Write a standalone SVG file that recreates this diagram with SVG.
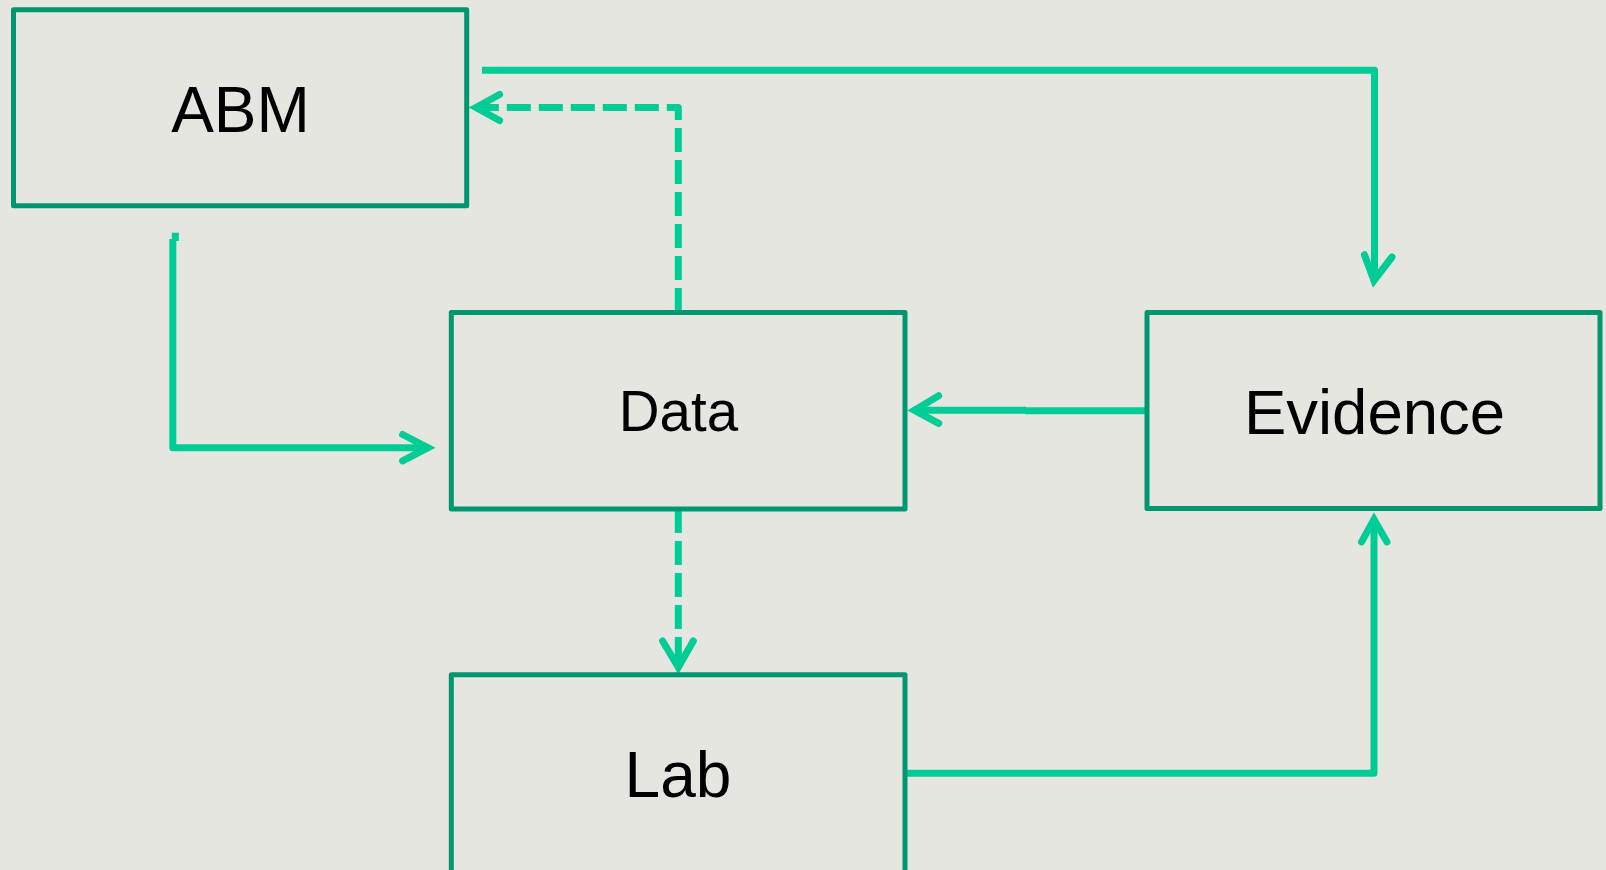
<svg xmlns="http://www.w3.org/2000/svg" width="1606" height="870" viewBox="0 0 1606 870">
<style>
.box{fill:#e5e6e0;stroke:#009670;stroke-width:5;stroke-linejoin:round}
.lbl{font-family:"Liberation Sans",Arial,sans-serif;fill:#000;text-anchor:middle}
.ln{fill:none;stroke:#00cc96;stroke-width:7;stroke-linejoin:round;stroke-linecap:butt}
.dash{stroke-dasharray:24 8}
.ah{fill:none;stroke:#00cc96;stroke-width:7;stroke-linejoin:miter;stroke-miterlimit:10;stroke-linecap:round}
</style>
<rect x="0" y="0" width="1606" height="870" fill="#e5e6e0"/>
<g id="connectors">
  <path class="ln" d="M482 70.3 H1374.5 V281"/>
  <path class="ah" d="M1364.4 254.7 L1374 280.5 L1392 257"/>
  <path class="ln" d="M175.3 232.7 V241"/>
  <path class="ln" d="M172.8 239 V447.7 H429"/>
  <path class="ah" d="M402.6 434.5 L428 447.7 L402.6 460.9"/>
  <path class="ln dash" d="M678.3 312 V107.5 H476"/>
  <path class="ah" d="M499.6 94.5 L476 107.5 L499.6 120.5"/>
  <path class="ln" d="M1147 410.8 H1025"/>
  <path class="ln" d="M1026 410.2 H914"/>
  <path class="ah" d="M938.7 395.8 L914.4 410.3 L938.7 423.3"/>
  <path class="ln dash" d="M678.3 509 V667.3"/>
  <path class="ah" d="M662.6 641 L678.3 667.3 L693.3 641"/>
  <path class="ln" d="M905 773.3 H1374 V519"/>
  <path class="ah" d="M1361.6 541.9 L1374 519.4 L1387 541.9"/>
</g>
<g id="node-abm">
  <rect class="box" x="13.5" y="9.7" width="453.2" height="196"/>
  <text class="lbl" x="240.5" y="132.3" font-size="64">ABM</text>
</g>
<g id="node-data">
  <rect class="box" x="451.3" y="312.5" width="453.7" height="196.5"/>
  <text class="lbl" x="678.5" y="431" font-size="56.5">Data</text>
</g>
<g id="node-evidence">
  <rect class="box" x="1147" y="312.5" width="453" height="196"/>
  <text class="lbl" x="1374.5" y="434.3" font-size="63.5">Evidence</text>
</g>
<g id="node-lab">
  <rect class="box" x="451.3" y="674.7" width="453.7" height="200"/>
  <text class="lbl" x="678" y="797.3" font-size="64">Lab</text>
</g>
</svg>
